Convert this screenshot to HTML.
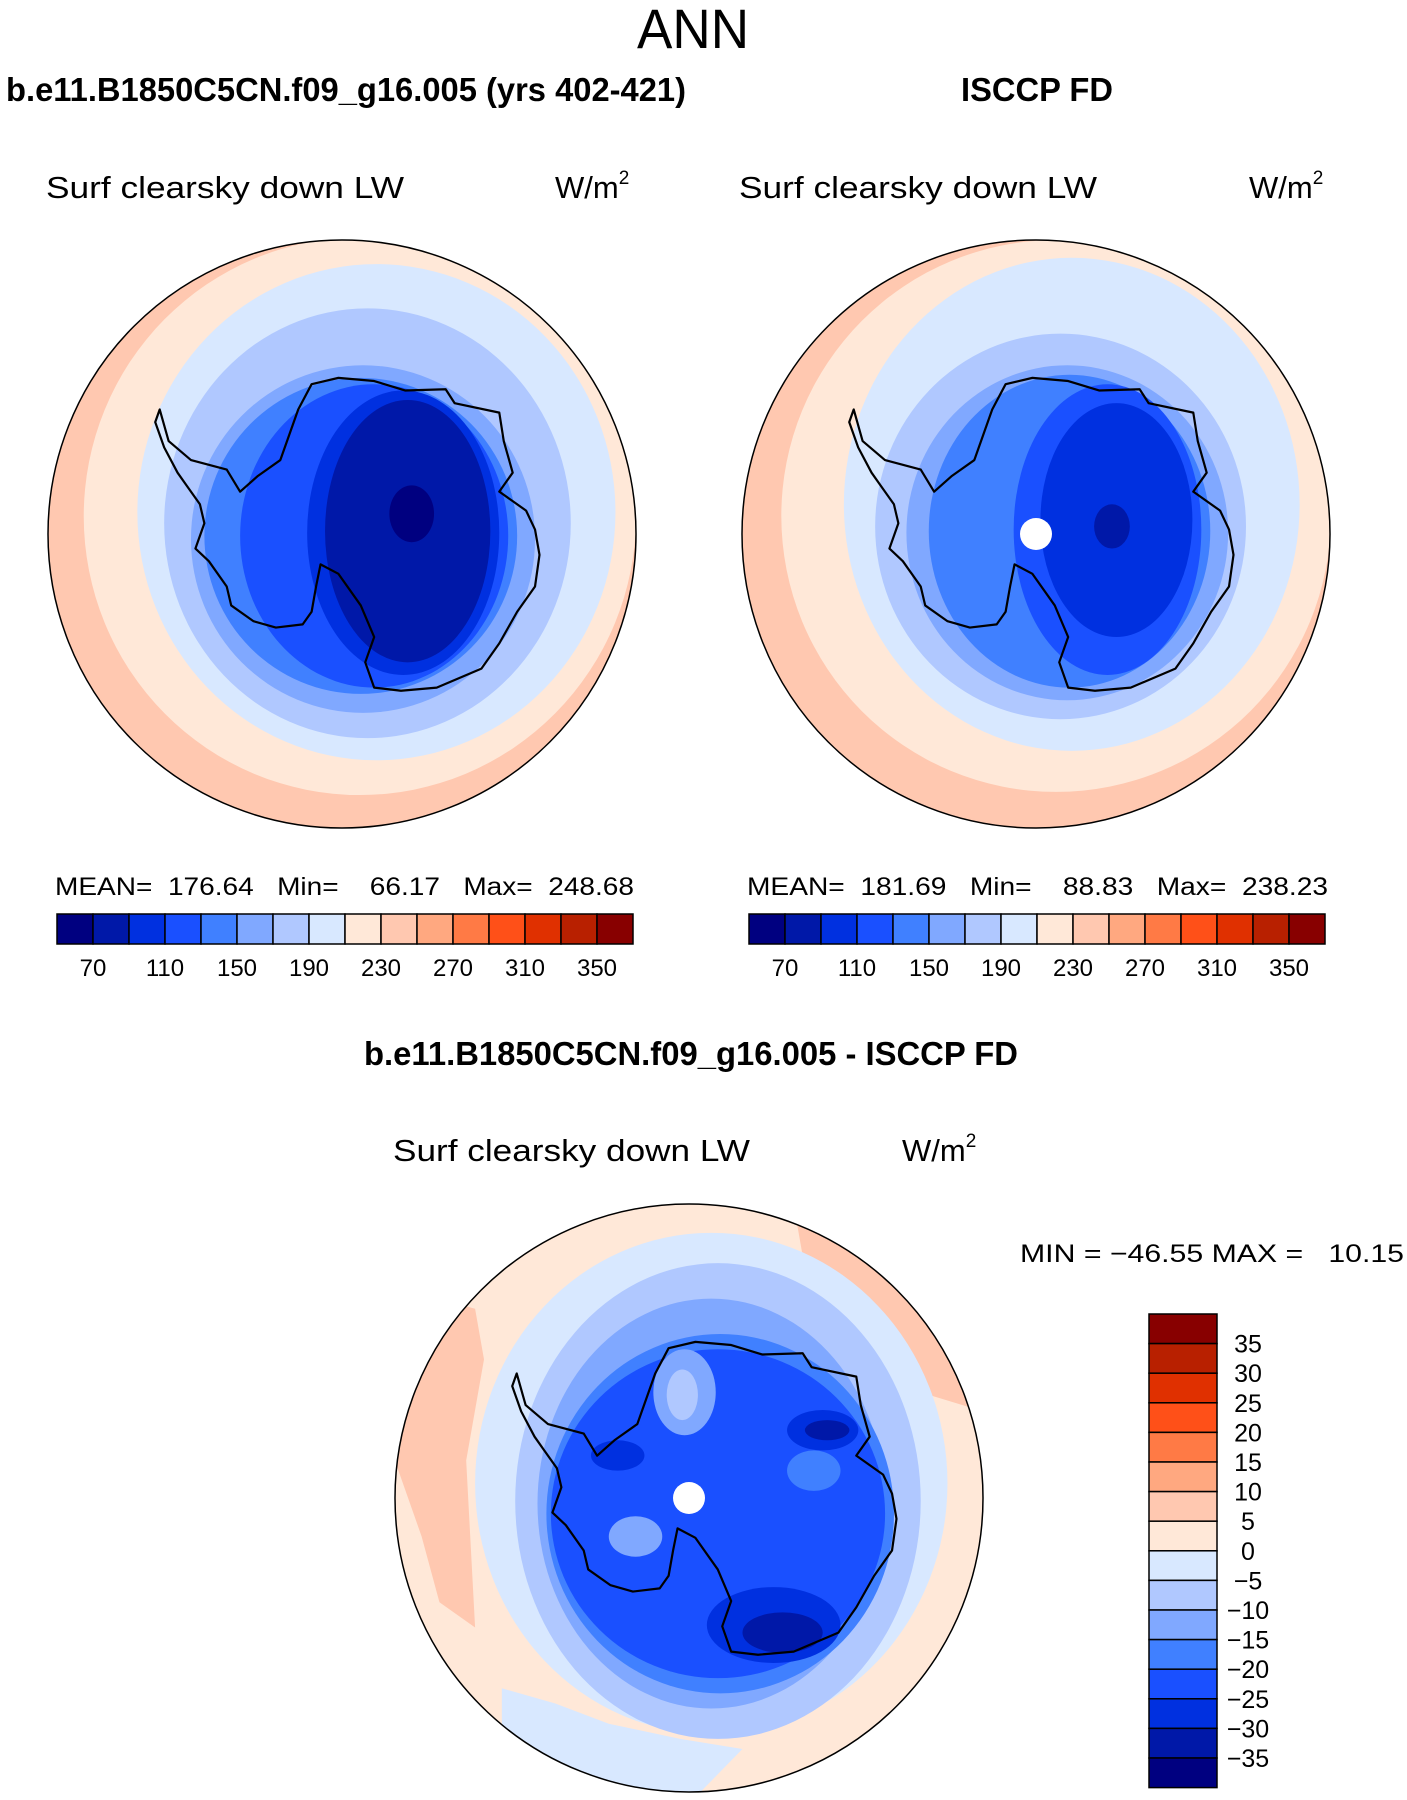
<!DOCTYPE html>
<html><head><meta charset="utf-8"><style>
html,body{margin:0;padding:0;background:#fff;}
svg{display:block;}
text{font-family:"Liberation Sans",sans-serif;fill:#000;}
</style></head><body>
<svg id="fig" xmlns="http://www.w3.org/2000/svg" width="1407" height="1800" viewBox="0 0 1407 1800">
<text x="693" y="48" font-size="56" text-anchor="middle" font-weight="normal" textLength="112" lengthAdjust="spacingAndGlyphs">ANN</text>
<text x="6" y="101" font-size="33" font-weight="bold" textLength="680" lengthAdjust="spacingAndGlyphs">b.e11.B1850C5CN.f09_g16.005 (yrs 402-421)</text>
<text x="961" y="101" font-size="33" font-weight="bold" textLength="152" lengthAdjust="spacingAndGlyphs">ISCCP FD</text>
<text x="46" y="198" font-size="31" textLength="358" lengthAdjust="spacingAndGlyphs">Surf clearsky down LW</text>
<text x="555" y="198" font-size="31">W/m<tspan font-size="19" dy="-14">2</tspan></text>
<text x="739" y="198" font-size="31" textLength="358" lengthAdjust="spacingAndGlyphs">Surf clearsky down LW</text>
<text x="1249" y="198" font-size="31">W/m<tspan font-size="19" dy="-14">2</tspan></text>
<text x="55" y="895" font-size="25" textLength="579" lengthAdjust="spacingAndGlyphs" xml:space="preserve">MEAN=  176.64   Min=    66.17   Max=  248.68</text>
<text x="747" y="895" font-size="25" textLength="581" lengthAdjust="spacingAndGlyphs" xml:space="preserve">MEAN=  181.69   Min=    88.83   Max=  238.23</text>
<text x="364" y="1065" font-size="33" font-weight="bold" textLength="654" lengthAdjust="spacingAndGlyphs">b.e11.B1850C5CN.f09_g16.005 - ISCCP FD</text>
<text x="393" y="1161" font-size="31" textLength="357" lengthAdjust="spacingAndGlyphs">Surf clearsky down LW</text>
<text x="902" y="1161" font-size="31">W/m<tspan font-size="19" dy="-14">2</tspan></text>
<text x="1020" y="1262" font-size="25" textLength="384" lengthAdjust="spacingAndGlyphs" xml:space="preserve">MIN = −46.55 MAX =   10.15</text>
<g id="maps"></g>
<g id="bars"></g>
</svg>
<script>
const colors16 = ["#000080","#0018a8","#0030e0","#1a50ff","#4080ff","#80a8ff","#b0c8ff","#d8e8ff","#ffe8d8","#ffc8b0","#ffa880","#ff7a45","#ff5018","#e03000","#b82000","#880000"];
const absLabels = ["70","110","150","190","230","270","310","350"];
const diffLabels = ["35","30","25","20","15","10","5","0","−5","−10","−15","−20","−25","−30","−35"];
const coast = [[350,600],[380,590],[420,595],[455,610],[500,608],[510,630],[560,645],[565,690],[575,740],[560,770],[590,800],[600,830],[605,870],[600,920],[580,960],[560,1010],[540,1050],[490,1080],[450,1085],[420,1080],[410,1040],[420,1000],[405,950],[380,900],[360,885],[355,920],[350,960],[340,980],[310,985],[285,975],[260,950],[255,920],[235,880],[220,860],[230,820],[225,790],[210,760],[200,740],[185,700],[175,660],[180,640],[190,690],[215,720],[255,735],[270,770],[290,745],[315,720],[325,680],[335,640]];
const NS="http://www.w3.org/2000/svg";
const svg=document.getElementById('fig');
const maps=document.getElementById('maps');
const bars=document.getElementById('bars');
function mk(tag,attrs,parent){const e=document.createElementNS(NS,tag);for(const k in attrs)e.setAttribute(k,attrs[k]);parent.appendChild(e);return e;}
const defs=mk('defs',{},svg);
function makeMap(id,cx,cy,R,zc,sx,sy,shapes,polys,dot,coastShift){
  const cp=mk('clipPath',{id:'clip'+id},defs);
  mk('circle',{cx:cx,cy:cy,r:R},cp);
  const g=mk('g',{'clip-path':'url(#clip'+id+')'},maps);
  
  
  mk('rect',{x:cx-R,y:cy-R,width:2*R,height:2*R,fill:shapes.base},g);
  const cvt=(X,Y)=>[cx+(X-zc[0])/sx, cy+(Y-zc[1])/sy];
  const all=shapes.list;
  all.forEach(s=>{
    if(s.p){
      const pts=s.p.map(p=>cvt(p[0],p[1]).join(',')).join(' ');
      const el=mk('polygon',{points:pts,fill:s.c},g);
      
      
    } else {
      const a=cvt(s.b[0],s.b[2]),b=cvt(s.b[1],s.b[3]);
      const el=mk('ellipse',{cx:(a[0]+b[0])/2,cy:(a[1]+b[1])/2,rx:(b[0]-a[0])/2,ry:(b[1]-a[1])/2,fill:s.c},g);
      
      
    }
  });
  const cpts=coast.map(p=>[cx+coastShift+(p[0]-384)/1.119, cy+(p[1]-837)/1.582].join(',')).join(' ');
  const co=mk('polygon',{points:cpts,fill:'none',stroke:'#000','stroke-width':2.2,'stroke-linejoin':'round'},g);
  
  
  if(dot){const d=mk('circle',{cx:cx,cy:cy,r:16,fill:'#fff'},g);
    
    }
  const bd=mk('circle',{cx:cx,cy:cy,r:R,fill:'none',stroke:'#000','stroke-width':1.5},maps);
  
  
}
makeMap('model',342,534,294,[384,837],1.119,1.582,{base:'#ffc8b0',list:[
 {c:'#ffe8d8',b:[95,713,368,1250]},{c:'#d8e8ff',b:[155,690,410,1195]},{c:'#b0c8ff',b:[185,640,480,1160]},
 {c:'#80a8ff',b:[215,600,570,1120]},{c:'#4080ff',b:[230,580,590,1090]},{c:'#1a50ff',b:[270,570,600,1080]},
 {c:'#0030e0',b:[345,560,610,1060]},{c:'#0018a8',b:[365,550,625,1040]},{c:'#000080',b:[437,487,760,850]}]},[],false,0);
makeMap('obs',1036,534,294,[1155,837],1.119,1.582,{base:'#ffc8b0',list:[
 {c:'#ffe8d8',b:[870,1485,372,1245]},{c:'#d8e8ff',b:[940,1450,400,1180]},{c:'#b0c8ff',b:[975,1390,520,1130]},
 {c:'#80a8ff',b:[1010,1370,570,1100]},{c:'#4080ff',b:[1035,1350,585,1080]},{c:'#1a50ff',b:[1130,1340,600,1060]},
 {c:'#0030e0',b:[1160,1330,630,1000]},{c:'#0018a8',b:[1220,1260,790,860]}]},[],true,0);
makeMap('diff',689,1498,294,[770,974],1.122,1.976,{base:'#ffe8d8',list:[
 {c:'#ffc8b0',p:[[445,560],[530,600],[540,700],[520,900],[530,1230],[490,1180],[470,1050],[440,900]]},
 {c:'#ffc8b0',p:[[890,420],[990,470],[1040,560],[1080,700],[1095,800],[1020,760],[950,640],[900,520]]},
 {c:'#d8e8ff',b:[530,1060,450,1440]},
 {c:'#d8e8ff',p:[[560,1350],[620,1380],[680,1420],[760,1450],[830,1470],[780,1560],[700,1560],[600,1500],[560,1420]]},
 {c:'#b0c8ff',b:[575,1030,510,1450]},{c:'#80a8ff',b:[600,990,580,1390]},{c:'#4080ff',b:[610,1000,650,1360]},
 {c:'#1a50ff',b:[615,990,680,1330]},
 {c:'#0030e0',b:[880,960,800,880]},{c:'#0030e0',b:[790,940,1150,1300]},{c:'#0030e0',b:[660,720,860,920]},
 {c:'#0018a8',b:[830,920,1200,1280]},{c:'#0018a8',b:[900,950,820,860]},
 {c:'#80a8ff',b:[730,800,680,850]},{c:'#b0c8ff',b:[745,780,720,820]},{c:'#80a8ff',b:[680,740,1010,1090]},{c:'#4080ff',b:[880,940,880,960]}]},[],true,10);
// horizontal colorbars
function hbar(name,x0,y0){
  const w=36,h=30;
  colors16.forEach((c,i)=>{const r=mk('rect',{x:x0+i*w,y:y0,width:w,height:h,fill:c,stroke:'#000','stroke-width':1.5},bars);
    
    });
  absLabels.forEach((l,i)=>{const t=mk('text',{x:x0+(2*i+1)*w,y:976,'font-size':24,'text-anchor':'middle'},bars);t.textContent=l;
    
    });
}
hbar('model',57,914);
hbar('obs',749,914);
// vertical diff colorbar
const vy0=1314,vh=29.6;
colors16.slice().reverse().forEach((c,i)=>{const r=mk('rect',{x:1149,y:vy0+i*vh,width:68,height:vh,fill:c,stroke:'#000','stroke-width':1.5},bars);
  
  });
diffLabels.forEach((l,i)=>{const t=mk('text',{x:1248,y:vy0+(i+1)*vh+9,'font-size':25,'text-anchor':'middle'},bars);t.textContent=l;
  
  });
</script>
</body></html>
